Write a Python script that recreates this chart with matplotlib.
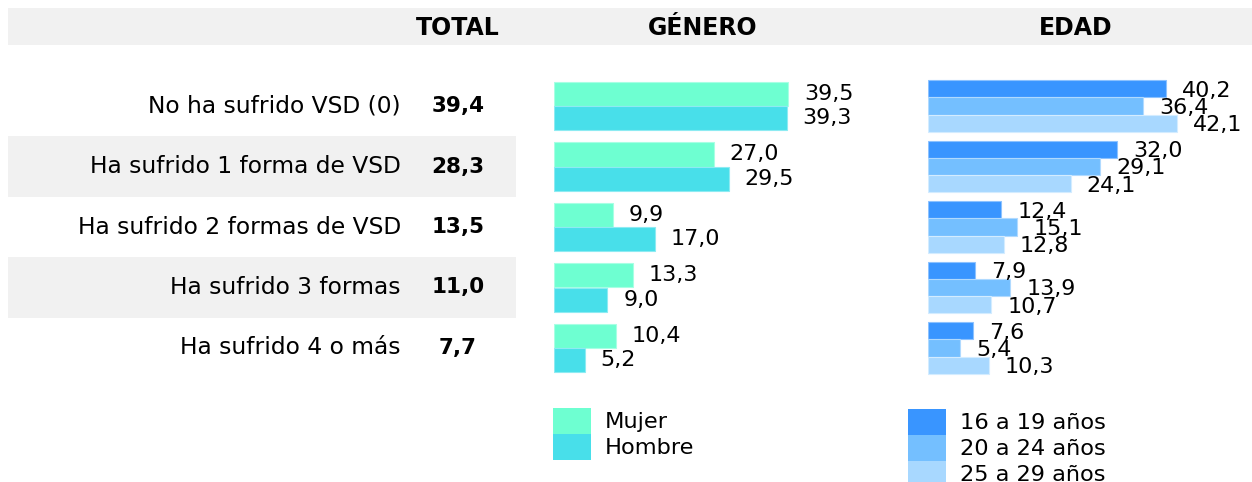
import matplotlib.pyplot as plt

categorias = ["No ha sufrido VSD (0)", "Ha sufrido 1 forma de VSD",
              "Ha sufrido 2 formas de VSD", "Ha sufrido 3 formas",
              "Ha sufrido 4 o más"]
total = [39.4, 28.3, 13.5, 11.0, 7.7]
mujer = [39.5, 27.0, 9.9, 13.3, 10.4]
hombre = [39.3, 29.5, 17.0, 9.0, 5.2]
edad_16_19 = [40.2, 32.0, 12.4, 7.9, 7.6]
edad_20_24 = [36.4, 29.1, 15.1, 13.9, 5.4]
edad_25_29 = [42.1, 24.1, 12.8, 10.7, 10.3]

W, H = 1252, 482
PX = 5.92  # pixels per unit
FS_CAT = 16.8
FS_VAL = 16
FS_TOT = 15.5
FS_HDR = 17
FS_LEG = 16.2
GRIS = "#f1f1f1"


def fmt(v):
    return f"{v:.1f}".replace(".", ",")


def px_axes(x0, y0, w, h):
    # pixel box (top-left origin) -> figure axes
    return fig.add_axes([x0 / W, 1 - (y0 + h) / H, w / W, h / H])


fig = plt.figure(figsize=(W / 100, H / 100), dpi=100)
plt.rcParams['font.family'] = ['DejaVu Sans']

# header band
hdr = px_axes(8, 8, W - 8, 37)
hdr.set_facecolor(GRIS)
hdr.set_xticks([]); hdr.set_yticks([])
for s in hdr.spines.values():
    s.set_visible(False)
for x, t in [(458, "TOTAL"), (703, "GÉNERO"), (1076, "EDAD")]:
    fig.text(x / W, 1 - 28 / H, t, ha="center", va="center",
             fontsize=FS_HDR, fontweight="bold")

n = len(categorias)
top = 106 - 30.25
rowh = 60.5 * n

# left column: labels + total
axl = px_axes(8, top, 508, rowh)
axl.set_xlim(8, 516)
axl.set_ylim(n - 0.5, -0.5)
axl.axis("off")
for i, (c, t) in enumerate(zip(categorias, total)):
    if i % 2 == 1:
        axl.axhspan(i - 0.5, i + 0.5, color=GRIS, lw=0)
    axl.text(401, i, c, ha="right", va="center", fontsize=FS_CAT)
    axl.text(458, i, fmt(t), ha="center", va="center", fontsize=FS_TOT,
             fontweight="bold")

# genero
gw = 300
axg = px_axes(554, top, gw, rowh)
axg.set_xlim(0, gw / PX)
axg.set_ylim(n - 0.5, -0.5)
axg.axis("off")
ys = list(range(n))
bh = 0.4
series_g = [(mujer, "#6effd1", "#a8ffe4", "Mujer", -0.2),
            (hombre, "#48dfea", "#8debf2", "Hombre", 0.2)]
for vals, col, ec, lab, off in series_g:
    axg.barh([y + off for y in ys], vals, height=bh, color=col,
             edgecolor=ec, linewidth=0.8, label=lab)
    for y, v in zip(ys, vals):
        axg.text(v + 16 / PX, y + off, fmt(v), va="center", ha="left",
                 fontsize=FS_VAL)

# edad
ew = 320
axe = px_axes(928, top, ew, rowh)
axe.set_xlim(0, ew / PX)
axe.set_ylim(n - 0.5, -0.5)
axe.axis("off")
bh2 = 0.286
series_e = [(edad_16_19, "#3995ff", "#8cc2ff", "16 a 19 años", -bh2),
            (edad_20_24, "#74bfff", "#b0daff", "20 a 24 años", 0),
            (edad_25_29, "#a8d8ff", "#d3ecff", "25 a 29 años", bh2)]
for vals, col, ec, lab, off in series_e:
    axe.barh([y + off for y in ys], vals, height=bh2, color=col,
             edgecolor=ec, linewidth=0.8, label=lab)
    for y, v in zip(ys, vals):
        axe.text(v + 16 / PX, y + off + 0.03, fmt(v), va="center",
                 ha="left", fontsize=FS_VAL)

fpx = FS_LEG * 100 / 72
hh = (26 / fpx - 0.245) / 0.65
legkw = dict(frameon=False, fontsize=FS_LEG, loc="upper left", borderpad=0,
             borderaxespad=0, labelspacing=0, handleheight=hh,
             handlelength=38 / fpx, handletextpad=14 / fpx,
             bbox_transform=fig.transFigure)
lg = axg.legend(bbox_to_anchor=(553 / W, 1 - 408 / H), **legkw)
le = axe.legend(bbox_to_anchor=(908 / W, 1 - 409 / H), **legkw)
for leg in (lg, le):
    for p in leg.get_patches():
        p.set_linewidth(0)

fig.savefig("out.png", dpi=100)
